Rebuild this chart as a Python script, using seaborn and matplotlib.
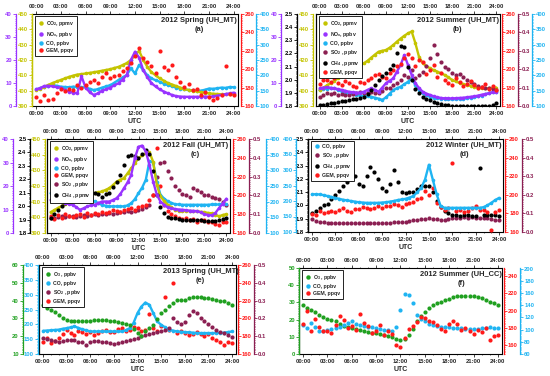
import matplotlib
matplotlib.use("Agg")
import matplotlib.pyplot as plt
import seaborn as sns
from matplotlib.ticker import AutoMinorLocator
from matplotlib.lines import Line2D

sns.set_style("white")
plt.rcParams['font.family'] = ['Liberation Sans', 'DejaVu Sans']
plt.rcParams['font.weight'] = 'bold'
plt.rcParams['mathtext.fontset'] = 'custom'
plt.rcParams['mathtext.rm'] = 'Liberation Sans:bold'
plt.rcParams['mathtext.it'] = 'Liberation Sans:bold'
plt.rcParams['mathtext.bf'] = 'Liberation Sans:bold'

# ---------------- data (half-hourly, UTC hours 0..24) ----------------
hours = [i * 0.5 for i in range(49)]
hour_ticks = [0, 3, 6, 9, 12, 15, 18, 21, 24]
hour_labels = ["00:00", "03:00", "06:00", "09:00", "12:00", "15:00", "18:00", "21:00", "24:00"]

# (a) 2012 Spring (UH_MT)
co2_a = [400.4, 401.2, 402.5, 403.8, 405, 406, 407, 408, 409, 409.8, 410.5, 410.8, 411.2, 411.6, 412, 412.5,
         413, 413.5, 414, 414.8, 415.5, 416.7, 418, 420, 423, 426, 420, 415.5, 412, 410, 408, 406.5,
         405, 404, 403, 402, 401, 400.5, 400, 399.5, 399, 398.6, 398.2, 398, 397.8, 397.7, 397.6, 397.6, 397.6]
nox_a = [7.2, 7.8, 8.7, 8.8, 8.5, 8.2, 8, 7, 6.2, 5.8, 5.5, 13, 8, 6, 4.8, 5.5,
         6.7, 7.3, 8, 9, 9.9, 11.5, 13.5, 20, 23.6, 21, 15.6, 12.5, 9.9, 8.5, 7.2, 6.3,
         5.5, 4.8, 4.3, 4.1, 4, 4, 4, 4, 4, 4.1, 4, 4.2, 4.5, 4.8, 5.2, 5.5, 5.8]
co_a = [154, 158, 162, 166, 168, 166, 163, 162, 161, 163, 162, 161, 161, 156, 152, 155,
        160, 164, 168, 176, 185, 193, 201, 223, 206, 234, 217, 200, 190, 184, 179, 173,
        168, 164, 160, 157, 154, 152, 151, 150, 150, 153, 157, 156, 158, 160, 159, 162, 161]
gem_a = [170, 165, 172, 167, 168, 174, 178, 176, 179, 177, 183, 180, 183, 186, 188, 185,
         192, 196, 190, 193, 194, 198, 201, 207, 214, 223, 212, 208, 203, 196, 220, 202,
         199, 205, 192, 186, 181, 184, 177, 179, 172, 175, 170, 166, 169, 172, 203, 173, 172]

# (b) 2012 Summer (UH_MT)
co2_b = [400.4, 402, 403.5, 405, 406.5, 408, 409.6, 411, 412.3, 413.5, 415, 416.4, 417.8, 419.5, 421.5, 423.5,
         425.4, 426, 426.5, 428, 429.8, 432, 434, 435.8, 437.4, 438.6, 431, 422, 418, 416, 414.6, 413.4,
         412.4, 411.3, 410.2, 408.6, 407, 406, 405, 404.3, 403.7, 403.1, 402.6, 402, 401.5, 401.5, 401.5, 401.8, 402]
nox_b = [7.7, 8, 8.2, 7.9, 7.7, 7.3, 7, 6.6, 6.2, 6, 5.8, 5.8, 6.2, 7, 7.7, 7,
         6.2, 8, 9.9, 11, 12, 15, 17.8, 22.2, 17.8, 13.5, 9.9, 7.8, 6.2, 5.4, 4.8, 4.2,
         3.8, 3.5, 3.3, 3.3, 3.3, 3.4, 3.5, 3.6, 3.8, 4, 4.2, 4.5, 4.9, 5.2, 5.5, 6, 6.2]
co_b = [152, 155, 157, 158, 158, 152, 147, 143, 140, 138, 136, 134, 133, 131, 130, 127,
        124, 120, 128, 140, 152, 158, 163, 171, 179, 190, 168, 153, 141, 135, 130, 127,
        125, 124, 123, 122, 122, 122, 123, 124, 125, 127, 128, 131, 134, 138, 142, 145, 147]
so2_b = [0.05, 0.06, 0.07, 0.065, 0.069, 0.06, 0.065, 0.06, 0.06, 0.065, 0.07, 0.075, 0.072, 0.068, 0.075, 0.07,
         0.068, 0.08, 0.096, 0.1, 0.114, 0.125, 0.14, 0.17, 0.16, 0.196, 0.15, 0.17, 0.187, 0.22, 0.26, 0.33,
         0.28, 0.24, 0.21, 0.2, 0.18, 0.17, 0.175, 0.155, 0.14, 0.13, 0.118, 0.11, 0.105, 0.1, 0.096, 0.09, 0.087]
ch4_b = [1.81, 1.81, 1.815, 1.82, 1.82, 1.83, 1.835, 1.84, 1.846, 1.85, 1.855, 1.86, 1.87, 1.89, 1.92, 1.96,
         2.0, 2.03, 2.05, 2.08, 2.11, 2.2, 2.26, 2.25, 2.1, 2.0, 1.93, 1.9, 1.87, 1.855, 1.846, 1.83,
         1.82, 1.815, 1.81, 1.805, 1.8, 1.8, 1.8, 1.8, 1.798, 1.798, 1.798, 1.798, 1.8, 1.8, 1.803, 1.81, 1.82]
gem_b = [184, 188, 188, 186, 190, 185, 183, 187, 185, 182, 181, 186, 185, 188, 190, 194,
         195, 192, 190, 196, 199, 203, 206, 212, 217, 212, 203, 210, 208, 195, 199, 205,
         192, 196, 188, 185, 183, 190, 186, 182, 184, 187, 183, 180, 181, 184, 179, 182, 177]

# (c) 2012 Fall (UH_MT)
co2_c = [403.3, 404.6, 406, 407.2, 408.4, 409.7, 411, 412, 413, 413.8, 414.4, 415, 415.5, 416, 416.5, 417.5,
         418.6, 420.5, 422.8, 424, 425, 428, 431.3, 434.5, 437.7, 439.5, 441, 441.5, 435.5, 420.7, 413.3, 410.5,
         408, 406.3, 404.8, 404.2, 404, 404, 404, 403.8, 403.8, 403.5, 403.3, 402.8, 402.6, 401.8, 400.6, 401.5, 402]
nox_c = [14.1, 14.4, 14.8, 13.8, 12.7, 12.3, 12, 11, 9.9, 10.5, 11.3, 11.8, 12, 12.7, 13.4, 13.4,
         13.4, 14, 14.8, 16.5, 19, 21.5, 24.7, 31.8, 36.7, 37.2, 34.6, 29, 21.9, 16.3, 13.4, 12,
         10.9, 10.5, 10.2, 10, 9.9, 9.7, 9.5, 9.4, 9.3, 8.8, 8, 7.7, 7.5, 8.5, 10.6, 12.5, 14.6]
co_c = [227, 224, 222, 221, 220, 220, 220, 220, 220, 216, 211, 206, 201, 195, 190, 187,
        185, 185, 185, 185, 185, 188, 195, 208, 227, 245, 270, 330, 325, 264, 222, 210,
        201, 196, 192, 191, 190, 190, 190, 190, 190, 190, 190, 190, 191, 191, 191, 192, 192]
gem_c = [177.7, 175, 179.4, 176, 180, 178, 177, 179, 180, 177, 181, 179, 181, 180, 182, 181,
         182, 184, 183.7, 182, 184.7, 186, 186.5, 185, 188, 189, 190, 195, 200.6, 250, 210, 190,
         183, 180, 177.7, 176, 175, 176, 174, 175, 172, 174, 174, 172, 172, 170, 169, 172, 172]
so2_c = [0.08, 0.08, 0.085, 0.09, 0.085, 0.09, 0.09, 0.085, 0.09, 0.095, 0.09, 0.095, 0.1, 0.095, 0.1, 0.1,
         0.105, 0.1, 0.105, 0.11, 0.11, 0.115, 0.11, 0.115, 0.12, 0.13, 0.14, 0.15, 0.2, 0.3, 0.37, 0.38,
         0.33, 0.29, 0.25, 0.23, 0.21, 0.2, 0.19, 0.24, 0.23, 0.22, 0.2, 0.2, 0.19, 0.185, 0.18, 0.165, 0.15]
ch4_c = [1.91, 1.94, 1.97, 2.0, 2.02, 2.04, 2.06, 2.08, 2.1, 2.1, 2.09, 2.1, 2.1, 2.09, 2.07, 2.09,
         2.1, 2.14, 2.18, 2.23, 2.31, 2.37, 2.38, 2.37, 2.36, 2.39, 2.42, 2.39, 2.26, 2.08, 1.99, 1.95,
         1.92, 1.915, 1.91, 1.905, 1.9, 1.9, 1.9, 1.9, 1.9, 1.9, 1.89, 1.89, 1.89, 1.89, 1.9, 1.905, 1.91]

# (d) 2012 Winter (UH_MT)
co_d = [221, 222, 221, 219, 216, 213, 210, 207, 204, 202, 200, 198, 196, 195, 194, 194,
        194, 194, 195, 196, 198, 200, 203, 205, 207, 211, 216, 228, 242, 269, 317, 269,
        221, 184, 178, 178, 178, 178, 178, 178, 178, 178, 178, 178, 180, 186, 194, 203, 210]
so2_d = [0.07, 0.06, 0.054, 0.052, 0.05, 0.048, 0.046, 0.048, 0.05, 0.047, 0.046, 0.048, 0.046, 0.048, 0.05, 0.048,
         0.05, 0.048, 0.05, 0.05, 0.05, 0.052, 0.053, 0.054, 0.055, 0.06, 0.064, 0.066, 0.068, 0.07, 0.073, 0.07,
         0.068, 0.066, 0.064, 0.07, 0.077, 0.076, 0.077, 0.078, 0.077, 0.078, 0.077, 0.076, 0.077, 0.075, 0.07, 0.067, 0.066]
ch4_d = [1.94, 1.96, 1.98, 2.0, 2.01, 2.05, 2.08, 2.11, 2.15, 2.18, 2.2, 2.22, 2.16, 2.15, 2.22, 2.29,
         2.25, 2.2, 2.13, 2.11, 2.16, 2.27, 2.18, 2.1, 2.09, 2.1, 2.1, 2.12, 2.15, 2.15, 2.15, 2.1,
         2.03, 1.99, 1.96, 1.94, 1.93, 1.93, 1.92, 1.93, 1.93, 1.92, 1.92, 2.28, 1.925, 1.93, 1.93, 1.925, 1.92]
gem_d = [179, 178, 182.5, 180, 181, 183, 182, 184, 185.7, 183, 182, 185, 185, 187, 186, 185,
         186, 188, 186, 188, 188, 190, 189, 187, 189.6, 191, 192, 195, 196.8, 204, 200, 207,
         191, 187, 184, 186, 234, 183, 184, 182, 183, 186, 188, 184, 184, 182, 162.5, 181, 184]

# (e) 2013 Spring (UH_MT)
o3_e = [37.6, 36, 34.8, 33.5, 32, 30.5, 29.2, 28.6, 28.3, 28.5, 28.8, 28.5, 28.3, 28.9, 29.2, 29.3,
        29.2, 28.7, 28.3, 27.8, 27.4, 27, 26.4, 24, 21.8, 20.3, 22.7, 24.5, 26.4, 29.5, 33, 35,
        36.7, 38.5, 40.4, 40.5, 40.6, 41.5, 42.3, 42.2, 42, 41.6, 41.3, 40.8, 40.4, 40, 39.5, 38.5, 37.6]
co_e = [178, 179, 180, 181, 182, 185, 187, 190, 193, 188, 183, 180, 176, 176, 176, 176,
        176, 176, 176, 176, 176, 180, 187, 205, 238, 260, 273.5, 266, 238, 210, 198.5, 190,
        182, 179, 176, 175, 174, 173, 172, 171, 170.5, 170.5, 170.5, 170.5, 170.5, 171, 172, 174, 176]
so2_e = [0.09, 0.085, 0.077, 0.073, 0.07, 0.075, 0.08, 0.078, 0.077, 0.07, 0.065, 0.05, 0.07, 0.072, 0.075, 0.07,
         0.065, 0.06, 0.058, 0.062, 0.068, 0.075, 0.08, 0.085, 0.09, 0.1, 0.108, 0.112, 0.118, 0.122, 0.127, 0.135,
         0.146, 0.2, 0.18, 0.17, 0.18, 0.22, 0.24, 0.23, 0.2, 0.185, 0.17, 0.15, 0.136, 0.125, 0.118, 0.105, 0.095]
gem_e = [174, 178, 172, 175, 178, 182, 187, 184, 181.6, 186, 185, 183, 185, 181, 183.5, 186,
         187, 185, 185, 188, 189, 186, 187, 190, 189, 186, 187, 205, 189, 186, 191, 224.5,
         187, 239.5, 183.5, 186, 183.5, 181, 182, 185, 183, 180, 182, 178, 176, 173, 170.4, 174, 172]

# (f) 2012 Summer (UH_CC)
o3_f = [28.6, 27, 25.7, 24.2, 22.8, 21.5, 20.2, 19.5, 18.9, 17.5, 16, 15.5, 15, 14.5, 14, 13.5,
        13, 12.5, 12, 11.5, 11, 10.5, 10.1, 9, 8.2, 9, 11, 14.5, 18.9, 22, 24.7, 26.8,
        28.6, 29.6, 30.5, 31.2, 31.9, 33, 33.9, 33.9, 33.9, 33.8, 33.6, 33.2, 32.5, 31.6, 30.5, 29.6, 28.6]
co_f = [108, 103, 110.7, 104, 97, 98, 99.7, 101, 102.4, 105, 108, 111, 113.5, 110, 108, 106,
        105, 104, 103, 101, 100, 99, 97, 105, 132.8, 158, 156, 143.8, 124.5, 117, 113.5, 110,
        108, 106, 105, 104, 104, 103, 102.4, 102, 101, 101, 101, 101.5, 102.4, 103, 104, 103, 102.4]
gem_f = [185, 200, 177, 190, 181, 176, 177, 174, 183, 194, 189, 180, 182, 178, 196.5, 186,
         182, 174, 177, 183, 171.5, 176, 173, 160, 158, 168, 179, 182, 187, 193, 191, 188,
         187, 183, 179, 176, 185, 188, 184, 178, 180, 176, 173.5, 178, 175, 180, 165.8, 171, 172]

# ---------------- styling ----------------
COL = dict(co2='#c4c400', nox='#9933ff', co='#1fb4f2', gem='#ff1a1a', so2='#8b1f52', ch4='#000000', o3='#20a020')
LAB = dict(co2=r"CO$_2$, ppmv", nox=r"NO$_x$, ppbv", co="CO, ppbv", gem="GEM, ppqv",
           so2=r"SO$_2$ , ppbv", ch4=r"CH$_4$ , ppmv", o3=r"O$_3$ , ppbv")

def rng(a, b, s):
    out, v = [], a
    while v <= b + 1e-9:
        out.append(round(v, 3))
        v += s
    return out

FS_TICK = 4.2
fig = plt.figure(figsize=(5.5, 3.76), dpi=100)


def px_rect(x0, y0, x1, y1):
    return [x0 / 550, 1 - y1 / 376, (x1 - x0) / 550, (y1 - y0) / 376]


def panel(rect, title, tag, tx, layers, legend_keys, host_left, host_right):
    host = fig.add_axes(rect)
    host.set_yticks([])
    for s in ['top', 'bottom']:
        host.spines[s].set_color('black'); host.spines[s].set_linewidth(0.8)
    host.spines['left'].set_color(host_left); host.spines['left'].set_linewidth(0.9)
    host.spines['right'].set_color(host_right); host.spines['right'].set_linewidth(0.8)
    top = None
    for (key, vals, kind, side, pos, ylim, ticks, fmt) in layers:
        c = COL[key]
        ax = host.twinx()
        if kind == 'line':
            sns.lineplot(x=hours, y=vals, ax=ax, color=c, linewidth=1.7, marker='o',
                         markersize=2.6, markeredgewidth=0, legend=False)
        else:
            sns.scatterplot(x=hours, y=vals, ax=ax, color=c, s=9, linewidth=0, legend=False)
        ax.set_ylim(*ylim)
        ax.set_ylabel('')
        for s in ax.spines.values():
            s.set_visible(False)
        sp = ax.spines[side]
        sp.set_visible(True)
        sp.set_position(('axes', pos))
        sp.set_color(c)
        sp.set_linewidth(0.9)
        if side == 'left':
            ax.yaxis.tick_left()
        else:
            ax.yaxis.tick_right()
        ax.set_yticks(ticks)
        ax.set_yticklabels([fmt.format(t) for t in ticks], fontsize=FS_TICK, fontweight='bold', color=c)
        ax.yaxis.set_minor_locator(AutoMinorLocator(10))
        ax.tick_params(axis='y', which='major', length=2, width=0.6, color=c, pad=0.8)
        ax.tick_params(axis='y', which='minor', length=1, width=0.5, color=c)
        top = ax
    host.set_xlim(-0.5, 24.5)
    host.set_xticks(hour_ticks)
    host.set_xticklabels(hour_labels, fontsize=FS_TICK, fontweight='bold')
    host.xaxis.set_minor_locator(AutoMinorLocator(3))
    host.tick_params(axis='x', which='major', top=True, labeltop=True, bottom=True, labelbottom=True,
                     length=2, width=0.6, pad=1.5, direction='out')
    host.tick_params(axis='x', which='minor', top=True, bottom=True, length=1, width=0.5)
    host.set_xlabel('UTC', fontsize=5.0, fontweight='bold', labelpad=1.5)
    handles = [Line2D([], [], ls='', marker='o', color=COL[k], markersize=3.2, markeredgewidth=0) for k in legend_keys]
    leg = top.legend(handles, [LAB[k] for k in legend_keys], loc='upper left', bbox_to_anchor=(0.01, 0.985),
                     fontsize=3.7, frameon=True, fancybox=False, edgecolor='black', framealpha=1,
                     borderpad=0.5, labelspacing=0.4, handletextpad=0.5, handlelength=1.2,
                     borderaxespad=0.2)
    leg.get_frame().set_linewidth(0.6)
    top.text(tx, 0.965, f"{title}\n({tag})", transform=host.transAxes, ha='center', va='top',
             fontsize=5.4, fontweight='bold', linespacing=1.3)


t_nox = rng(0, 40, 10); t_co2 = rng(390, 450, 10); t_gem = rng(160, 260, 20); t_co = rng(100, 400, 50)
t_ch4 = rng(1.8, 2.5, 0.1); t_so2 = rng(0, 0.5, 0.1)

# (a)
panel(px_rect(32, 14, 238, 106), "2012 Spring (UH_MT)", "a", 0.81, [
    ('co', co_a, 'line', 'right', 1.087, (100, 400), t_co, '{:.0f}'),
    ('co2', co2_a, 'line', 'left', 0.0, (390, 450), t_co2, '{:.0f}'),
    ('nox', nox_a, 'line', 'left', -0.078, (0, 40), t_nox, '{:.0f}'),
    ('gem', gem_a, 'dot', 'right', 1.015, (160, 260), t_gem, '{:.0f}'),
], ['co2', 'nox', 'co', 'gem'], COL['co2'], 'black')

# (b)
panel(px_rect(316, 14, 500, 106), "2012 Summer (UH_MT)", "b", 0.77, [
    ('co', co_b, 'line', 'right', 1.174, (100, 400), t_co, '{:.0f}'),
    ('co2', co2_b, 'line', 'left', -0.015, (390, 450), t_co2, '{:.0f}'),
    ('so2', so2_b, 'dot', 'right', 1.098, (0, 0.5), t_so2, '{:.1f}'),
    ('nox', nox_b, 'line', 'left', -0.19, (0, 40), t_nox, '{:.0f}'),
    ('gem', gem_b, 'dot', 'right', 1.012, (160, 260), t_gem, '{:.0f}'),
    ('ch4', ch4_b, 'dot', 'left', -0.103, (1.8, 2.5), t_ch4, '{:.1f}'),
], ['co2', 'nox', 'co', 'so2', 'ch4', 'gem'], 'black', 'black')

# (c)
panel(px_rect(47, 139, 230, 233), "2012 Fall (UH_MT)", "c", 0.81, [
    ('so2', so2_c, 'dot', 'right', 1.102, (0, 0.5), t_so2, '{:.1f}'),
    ('gem', gem_c, 'dot', 'right', 1.015, (160, 260), t_gem, '{:.0f}'),
    ('co', co_c, 'line', 'right', 1.195, (100, 400), t_co, '{:.0f}'),
    ('co2', co2_c, 'line', 'left', -0.01, (390, 450), t_co2, '{:.0f}'),
    ('ch4', ch4_c, 'dot', 'left', -0.091, (1.8, 2.5), t_ch4, '{:.1f}'),
    ('nox', nox_c, 'line', 'left', -0.186, (0, 40), t_nox, '{:.0f}'),
], ['co2', 'nox', 'co', 'gem', 'so2', 'ch4'], 'black', 'black')

# (d)
panel(px_rect(308, 139, 503, 232), "2012 Winter (UH_MT)", "d", 0.80, [
    ('so2', so2_d, 'dot', 'right', 1.095, (0, 0.5), t_so2, '{:.1f}'),
    ('ch4', ch4_d, 'dot', 'left', 0.0, (1.8, 2.5), t_ch4, '{:.1f}'),
    ('gem', gem_d, 'dot', 'right', 1.012, (160, 260), t_gem, '{:.0f}'),
    ('co', co_d, 'line', 'left', -0.059, (100, 400), t_co, '{:.0f}'),
], ['co', 'so2', 'ch4', 'gem'], 'black', 'black')

# (e)
panel(px_rect(39, 265, 236, 354), "2013 Spring (UH_MT)", "e", 0.82, [
    ('gem', gem_e, 'dot', 'right', 1.008, (160, 260), t_gem, '{:.0f}'),
    ('co', co_e, 'line', 'left', -0.007, (100, 400), t_co, '{:.0f}'),
    ('so2', so2_e, 'dot', 'right', 1.09, (0, 0.5), t_so2, '{:.1f}'),
    ('o3', o3_e, 'dot', 'left', -0.083, (10, 60), rng(10, 60, 10), '{:.0f}'),
], ['o3', 'co', 'so2', 'gem'], 'black', 'black')

# (f)
panel(px_rect(299, 268, 502, 354), "2012 Summer (UH_CC)", "f", 0.80, [
    ('o3', o3_f, 'dot', 'left', 0.0, (0, 50), rng(0, 50, 10), '{:.0f}'),
    ('co', co_f, 'dot', 'right', 1.09, (60, 201), rng(60, 200, 20), '{:.0f}'),
    ('gem', gem_f, 'dot', 'right', 1.01, (150, 249), rng(160, 240, 20), '{:.0f}'),
], ['o3', 'co', 'gem'], 'black', 'black')

fig.savefig("out.png", dpi=100)
